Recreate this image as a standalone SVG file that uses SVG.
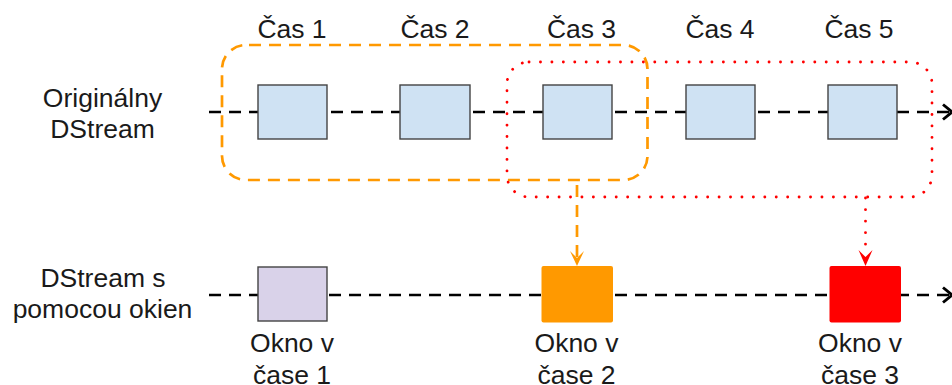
<svg xmlns="http://www.w3.org/2000/svg" width="952" height="385" viewBox="0 0 952 385">
<style>
text{font-family:"Liberation Sans",Arial,sans-serif;font-size:26.5px;fill:#1a1a1a;text-anchor:middle}
.axis{fill:none;stroke:#000;stroke-width:2.7;stroke-dasharray:12 8}
.box{stroke:#434343;stroke-width:1.4}
.blue{fill:#cfe2f3}
.head{fill:none;stroke:#000;stroke-width:2.9}
</style>
<g id="connectors">
<path class="axis" d="M209 112H258M331 112H400M473 112H543M615 112H686M758 112H828M897 112H950"/>
<path class="head" d="M943 104.500L952 112L943 119.500"/>
<path class="axis" d="M209 295H258M329 295H542M615 295H830M897 295H950"/>
<path class="head" d="M943 287.500L952 295L943 302.500"/>
<path d="M577 185V258" fill="none" stroke="#ff9900" stroke-width="2.7" stroke-dasharray="12 8"/>
<path d="M570 251L577 266L584 251L577 258Z" fill="#ff9900"/>
<path d="M865.500 198V246" fill="none" stroke="#ff0000" stroke-width="2.8" stroke-linecap="round" stroke-dasharray="0.1 11.43"/>
<path d="M858.500 250L865.500 266L872.500 250L865.500 257Z" fill="#ff0000"/>
</g>
<g id="t1"><rect class="box blue" x="258" y="85" width="69" height="54"/></g>
<g id="t2"><rect class="box blue" x="400" y="85" width="70" height="54"/></g>
<g id="t3"><rect class="box blue" x="543" y="85" width="69" height="54"/></g>
<g id="t4"><rect class="box blue" x="686" y="85" width="69" height="54"/></g>
<g id="t5"><rect class="box blue" x="828" y="85" width="69" height="54"/></g>
<g id="w1"><rect class="box" x="258" y="267" width="69" height="54" fill="#d9d2e9"/></g>
<g id="w2"><rect x="541.500" y="266" width="71.500" height="56.500" rx="2" fill="#ff9900"/></g>
<g id="w3"><rect x="829.500" y="266" width="71.500" height="56.500" rx="2" fill="#ff0000"/></g>
<g id="window-orange"><rect x="222" y="45" width="425.500" height="135" rx="24" fill="none" stroke="#ff9900" stroke-width="2.7" stroke-dasharray="12 8" stroke-dashoffset="-3"/></g>
<g id="window-red"><rect x="507" y="62" width="425" height="135" rx="22" fill="none" stroke="#ff0000" stroke-width="2.8" stroke-linecap="round" stroke-dasharray="0.1 11.33"/></g>
<g id="labels">
<text x="292" y="37.500">Čas 1</text><text x="435" y="37.500">Čas 2</text><text x="581.500" y="37.500">Čas 3</text><text x="720" y="37.500">Čas 4</text><text x="859" y="37.500">Čas 5</text>
<text x="102.500" y="106.500">Originálny</text><text x="102.500" y="138">DStream</text>
<text x="103" y="287">DStream s</text><text x="102.500" y="318">pomocou okien</text>
<text x="292" y="352">Okno v</text><text x="292" y="384">čase 1</text>
<text x="576.500" y="352">Okno v</text><text x="576.500" y="384">čase 2</text>
<text x="860" y="352">Okno v</text><text x="860" y="384">čase 3</text>
</g>
</svg>
